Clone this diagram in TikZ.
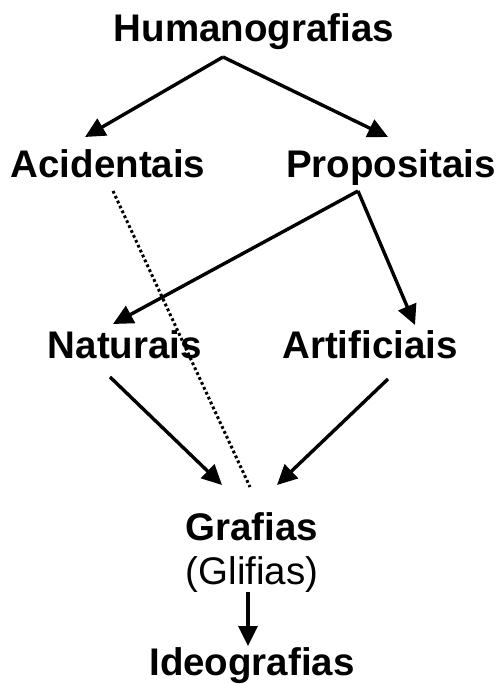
\documentclass[tikz,border=0pt]{standalone}
\usepackage{fontspec}
\setmainfont{Liberation Sans}
\usetikzlibrary{arrows.meta}
\begin{document}
\begin{tikzpicture}[x=1pt,y=-1pt,
  lbl/.style={font=\fontsize{38.5}{40}\selectfont\bfseries, anchor=base, inner sep=0pt},
  lblreg/.style={font=\fontsize{38.5}{40}\selectfont, anchor=base, inner sep=0pt},
  conn/.style={line width=3.4pt, -{Triangle[length=20pt,width=19pt]}},
  dotline/.style={line width=3pt, dash pattern=on 2.8pt off 2.6pt}]
\useasboundingbox (0,0) rectangle (499,684);
\node[lbl] (hum) at (254,42) {Humanografias};
\node[lbl] (aci) at (108,178) {Acidentais};
\node[lbl] (pro) at (391,178) {Propositais};
\node[lbl] (nat) at (125,358) {Naturais};
\node[lbl] (art) at (370,358) {Artificiais};
\node[lbl] (gra) at (252,540) {Grafias};
\node[lblreg] (gli) at (252,584) {(Glifias)};
\node[lbl] (ide) at (252,675) {Ideografias};
% junction and end coordinates
\coordinate (hj) at (223,57);
\coordinate (acit) at (85,137);
\coordinate (prot) at (388,137);
\coordinate (pj) at (358,191);
\coordinate (natt) at (113,324);
\coordinate (artt) at (415,325);
\coordinate (nats) at (110,377);
\coordinate (arts) at (388,379);
\coordinate (grl) at (222,485);
\coordinate (grr) at (277,485);
\coordinate (dots) at (113,191);
\coordinate (dote) at (250,487);
\coordinate (glb) at (248,592);
\coordinate (idt) at (248,646);
\draw[conn] (hj) -- (acit);
\draw[conn] (hj) -- (prot);
\draw[conn] (pj) -- (natt);
\draw[conn] (pj) -- (artt);
\draw[conn] (nats) -- (grl);
\draw[conn] (arts) -- (grr);
\draw[dotline] (dots) -- (dote);
\draw[conn] (glb) -- (idt);
\end{tikzpicture}
\end{document}
